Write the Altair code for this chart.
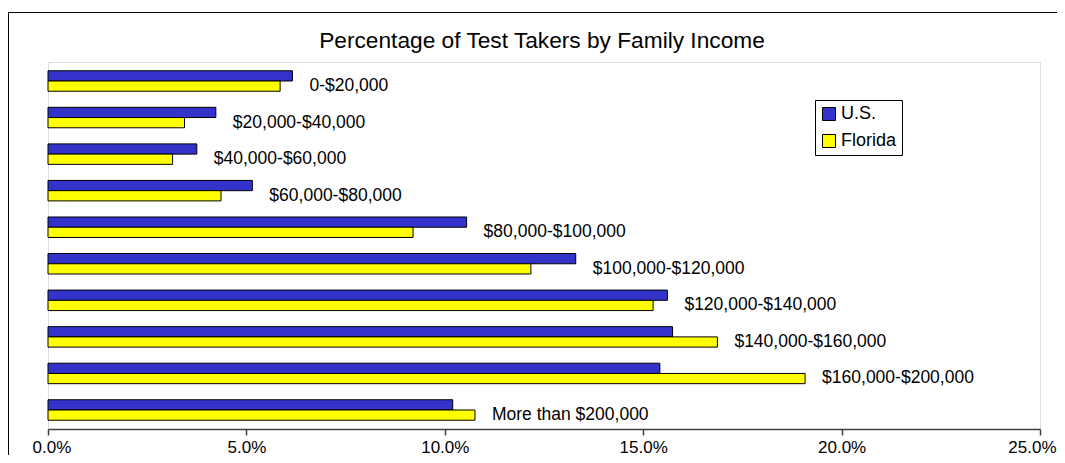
import altair as alt
import pandas as pd

categories = [
    "0-$20,000", "$20,000-$40,000", "$40,000-$60,000", "$60,000-$80,000",
    "$80,000-$100,000", "$100,000-$120,000", "$120,000-$140,000",
    "$140,000-$160,000", "$160,000-$200,000", "More than $200,000",
]
series = ["U.S.", "Florida"]
us_values = [6.16, 4.23, 3.75, 5.15, 10.55, 13.3, 15.61, 15.74, 15.42, 10.2]
fl_values = [5.85, 3.44, 3.14, 4.36, 9.2, 12.17, 15.25, 16.87, 19.08, 10.76]
tick_values = [0.0, 0.05, 0.10, 0.15, 0.20, 0.25]
title_text = "Percentage of Test Takers by Family Income"
colors = ["#3333CC", "#FFFF00"]

rows = []
for c, u, f in zip(categories, us_values, fl_values):
    rows.append({"category": c, "series": series[0], "value": u / 100})
    rows.append({"category": c, "series": series[1], "value": f / 100})
df = pd.DataFrame(rows)

FONT = "Liberation Sans"
W, H = 992, 367

base = alt.Chart(df)

y_enc = alt.Y("category:N", sort=categories, axis=None,
              scale=alt.Scale(paddingInner=0.44, paddingOuter=0.24))

bars = base.mark_bar(stroke="black", strokeWidth=1).encode(
    x=alt.X("value:Q",
            scale=alt.Scale(domain=[0, 0.25], nice=False, zero=True),
            axis=alt.Axis(format=".1%", values=tick_values, grid=False,
                          title=None, labelFontSize=17, labelFont=FONT,
                          labelColor="black", labelFlush=True,
                          labelFlushOffset=16,
                          labelOverlap=False, tickSize=6,
                          tickColor="#404040", tickWidth=1.5,
                          domainColor="#404040", domainWidth=1.5,
                          labelBaseline="alphabetic", labelPadding=17)),
    y=y_enc,
    yOffset=alt.YOffset("series:N", sort=series,
                        scale=alt.Scale(paddingInner=0, paddingOuter=0)),
    color=alt.Color("series:N",
                    scale=alt.Scale(domain=series, range=colors),
                    legend=alt.Legend(title=None, orient="none",
                                      legendX=767, legendY=38,
                                      symbolType="square", symbolSize=169,
                                      symbolStrokeColor="black",
                                      symbolStrokeWidth=1, symbolOpacity=1,
                                      labelFontSize=18, labelFont=FONT,
                                      labelColor="black", labelOffset=3,
                                      padding=5, rowPadding=9,
                                      strokeColor="black", fillColor="white")),
)

labels = base.mark_text(align="left", baseline="middle", dx=17, dy=5,
                        fontSize=17.5, font=FONT, color="black").encode(
    x=alt.X("max(value):Q"),
    y=y_enc,
    text="category:N",
)

title = alt.Chart(alt.Data(values=[{}])).mark_text(
    text=title_text, fontSize=22.7, font=FONT, color="black",
    align="center", baseline="alphabetic",
).encode(x=alt.value(494), y=alt.value(-14))

frame_top = alt.Chart(alt.Data(values=[{}])).mark_rule(
    color="black", strokeWidth=1,
).encode(x=alt.value(-39.5), x2=alt.value(1100), y=alt.value(-49.5))

frame_left = alt.Chart(alt.Data(values=[{}])).mark_rule(
    color="black", strokeWidth=1,
).encode(x=alt.value(-39.5), y=alt.value(-49.5), y2=alt.value(500))

chart = alt.layer(frame_top, frame_left, bars, labels, title).properties(
    width=W, height=H,
    autosize=alt.AutoSizeParams(type="none"),
    padding={"left": 40, "top": 54, "right": 17, "bottom": 26},
).configure_view(
    stroke="#8c8c8c", strokeWidth=2,
).configure(background="white")

chart.save("out.html", embed_options={"renderer": "svg", "actions": False})
